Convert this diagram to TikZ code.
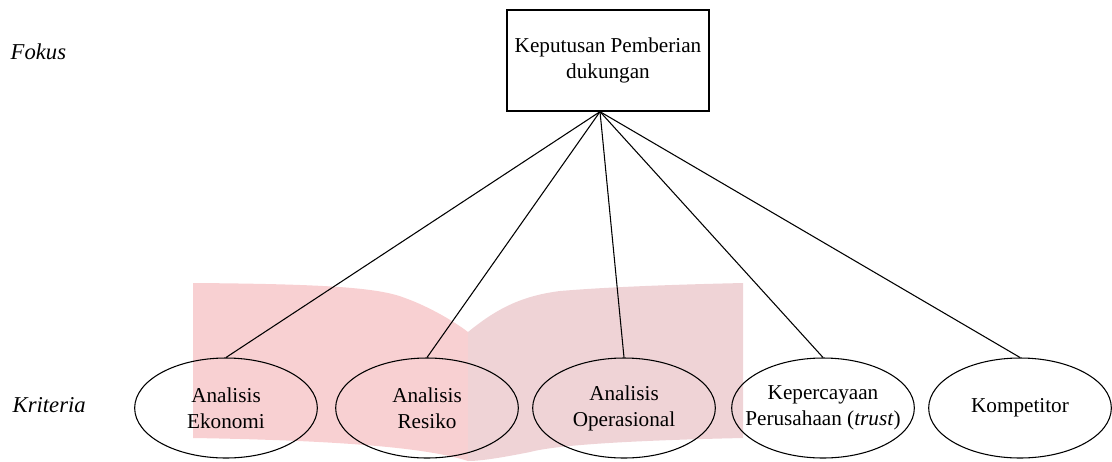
\documentclass[tikz,border=0pt]{standalone}
\usepackage{fontspec}
\setmainfont{Liberation Serif}
\usetikzlibrary{shapes.geometric}
\definecolor{leftPage}{RGB}{248,208,210}
\definecolor{rightPage}{RGB}{239,211,214}
\begin{document}
\begin{tikzpicture}
[x=0.75pt,y=-0.75pt,
  lineDecorate/.style={-,line width=0.8pt},%
  boxDecorate/.style={draw,line width=1pt,minimum width=151.5pt,minimum height=75.75pt,align=center,font=\fontsize{15.9}{19.5}\selectfont},%
  ellipseDecorate/.style={shape=ellipse,draw,line width=0.8pt,minimum width=137pt,minimum height=75pt,inner xsep=-12pt,inner ysep=0pt,align=center,font=\fontsize{15.9}{19.5}\selectfont},%
  levelDecorate/.style={anchor=west,font=\fontsize{17}{20}\selectfont\itshape}]
\useasboundingbox (0,0) rectangle (1112,461);
%% pink pages behind the criteria
\fill[leftPage] (193,283) .. controls (330,284) and (380,288) .. (405,298)
  .. controls (430,307) and (455,322) .. (468,332) -- (468,461)
  .. controls (440,452) and (380,441) .. (193,438) -- cycle;
\fill[rightPage] (468,332) .. controls (495,310) and (520,296) .. (560,291)
  .. controls (620,286) and (700,284) .. (743,283) -- (743,438)
  .. controls (650,440) and (560,444) .. (530,452)
  .. controls (500,458) and (480,461) .. (468,461) -- cycle;
%% levels
\node (fokus) at (6,52) [levelDecorate] {Fokus};
\node (kriteria) at (8,405) [levelDecorate] {Kriteria};
%% goal
\node (goal) at (608,60.5) [boxDecorate] {Keputusan Pemberian\\dukungan};
\coordinate (hub) at ([xshift=-6pt]goal.south);
%% criteria
\foreach \nodename/\x/\label in {
  ekonomi/226/{Analisis\\Ekonomi}, resiko/427/{Analisis\\Resiko},
  operasional/624/{Analisis\\Operasional},
  trust/823/{Kepercayaan\\Perusahaan (\textit{trust})},
  kompetitor/1020/{Kompetitor}}
{
  \node (\nodename) at (\x,408) [ellipseDecorate] {\label};
}
%% edges or lines
\path
\foreach \endnode in {ekonomi, resiko, operasional, trust, kompetitor}
{
  (hub) edge[lineDecorate] (\endnode.north)
};
\end{tikzpicture}
\end{document}
